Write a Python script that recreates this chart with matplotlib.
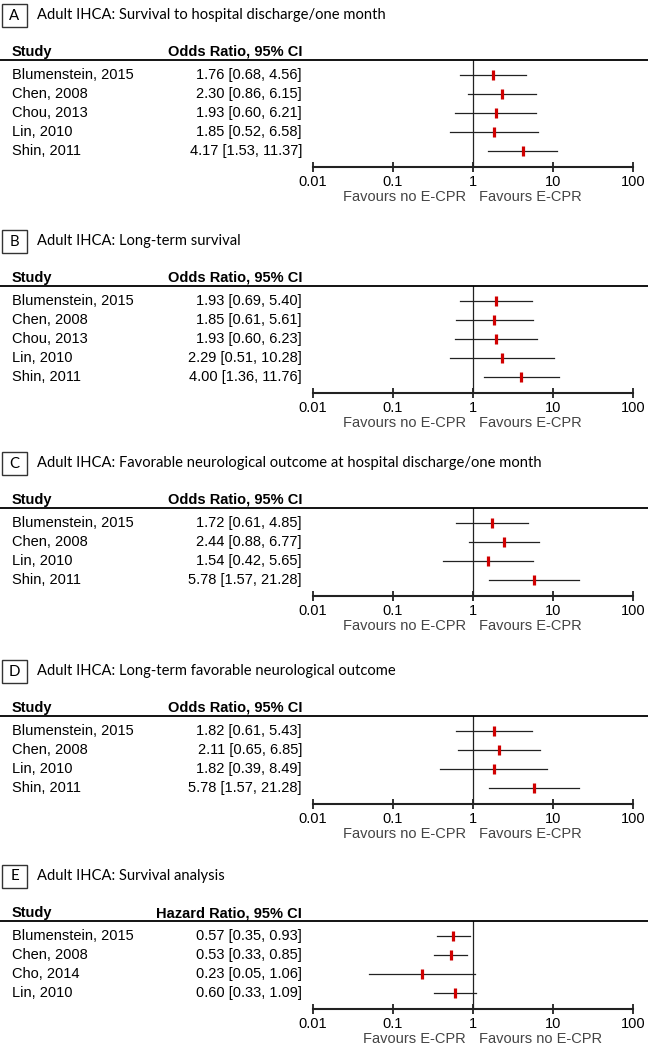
import matplotlib.pyplot as plt
from matplotlib.patches import Rectangle

# data per panel
letters = ['A', 'B', 'C', 'D', 'E']
titles = ['Adult IHCA: Survival to hospital discharge/one month',
          'Adult IHCA: Long-term survival',
          'Adult IHCA: Favorable neurological outcome at hospital discharge/one month',
          'Adult IHCA: Long-term favorable neurological outcome',
          'Adult IHCA: Survival analysis']
measure = ['Odds Ratio, 95% CI', 'Odds Ratio, 95% CI', 'Odds Ratio, 95% CI',
           'Odds Ratio, 95% CI', 'Hazard Ratio, 95% CI']

studies_a = ['Blumenstein, 2015', 'Chen, 2008', 'Chou, 2013', 'Lin, 2010', 'Shin, 2011']
est_a = [1.76, 2.30, 1.93, 1.85, 4.17]
lo_a = [0.68, 0.86, 0.60, 0.52, 1.53]
hi_a = [4.56, 6.15, 6.21, 6.58, 11.37]

studies_b = ['Blumenstein, 2015', 'Chen, 2008', 'Chou, 2013', 'Lin, 2010', 'Shin, 2011']
est_b = [1.93, 1.85, 1.93, 2.29, 4.00]
lo_b = [0.69, 0.61, 0.60, 0.51, 1.36]
hi_b = [5.40, 5.61, 6.23, 10.28, 11.76]

studies_c = ['Blumenstein, 2015', 'Chen, 2008', 'Lin, 2010', 'Shin, 2011']
est_c = [1.72, 2.44, 1.54, 5.78]
lo_c = [0.61, 0.88, 0.42, 1.57]
hi_c = [4.85, 6.77, 5.65, 21.28]

studies_d = ['Blumenstein, 2015', 'Chen, 2008', 'Lin, 2010', 'Shin, 2011']
est_d = [1.82, 2.11, 1.82, 5.78]
lo_d = [0.61, 0.65, 0.39, 1.57]
hi_d = [5.43, 6.85, 8.49, 21.28]

studies_e = ['Blumenstein, 2015', 'Chen, 2008', 'Cho, 2014', 'Lin, 2010']
est_e = [0.57, 0.53, 0.23, 0.60]
lo_e = [0.35, 0.33, 0.05, 0.33]
hi_e = [0.93, 0.85, 1.06, 1.09]

favours = [('Favours no E-CPR', 'Favours E-CPR')] * 4 + [('Favours E-CPR', 'Favours no E-CPR')]
ticks = [0.01, 0.1, 1, 10, 100]
tick_labels = ['0.01', '0.1', '1', '10', '100']

panels = [(studies_a, est_a, lo_a, hi_a), (studies_b, est_b, lo_b, hi_b),
          (studies_c, est_c, lo_c, hi_c), (studies_d, est_d, lo_d, hi_d),
          (studies_e, est_e, lo_e, hi_e)]

W, H = 648, 1050
fig = plt.figure(figsize=(W / 100, H / 100), dpi=100)

def fx(x):
    return x / W

def fy(y):
    return 1 - y / H

arial = 'Liberation Sans'
calibri = 'Lato'
fs = 10.5
row_h = 19.1
top_y = [14, 240, 462, 670, 875]

for k in range(5):
    studies, est, lo, hi = panels[k]
    n = len(studies)
    t = top_y[k]

    # letter box + title
    fig.patches.append(Rectangle((fx(2), fy(t + 13)), fx(25), 23 / H, transform=fig.transFigure,
                                 fill=False, edgecolor='#333333', lw=1.0))
    fig.text(fx(14.5), fy(t + 1.5), letters[k], ha='center', va='center', fontsize=10.8, family=calibri)
    fig.text(fx(37), fy(t + 1), titles[k], ha='left', va='center', fontsize=10.6, family=calibri)

    # header
    fig.text(fx(12), fy(t + 38), 'Study', ha='left', va='center', fontsize=fs, family=arial, weight='bold')
    fig.text(fx(302), fy(t + 38), measure[k], ha='right', va='center', fontsize=fs, family=arial, weight='bold')
    line_y = t + 46
    fig.add_artist(plt.Line2D([0, 1], [fy(line_y), fy(line_y)], color='black', lw=1.3))

    # rows of text
    for i in range(n):
        yy = line_y + 15 + row_h * i
        fig.text(fx(12), fy(yy), studies[i], ha='left', va='center', fontsize=fs, family=arial)
        fig.text(fx(302), fy(yy), '{:.2f} [{:.2f}, {:.2f}]'.format(est[i], lo[i], hi[i]),
                 ha='right', va='center', fontsize=fs, family=arial)

    # forest plot axes
    top_pad = 15 / row_h
    bot_pad = 16 / row_h
    h_px = (n - 1 + top_pad + bot_pad) * row_h
    ax = fig.add_axes([fx(313), fy(line_y + h_px), fx(633 - 313), h_px / H])
    ax.set_xscale('log')
    ax.set_xlim(0.01, 100)
    ax.set_ylim(n - 1 + bot_pad, -top_pad)
    ax.patch.set_visible(False)
    for s in ['top', 'left', 'right']:
        ax.spines[s].set_visible(False)
    ax.spines['bottom'].set_linewidth(1.5)
    ax.spines['bottom'].set_color('#222222')
    ax.set_yticks([])
    ax.set_xticks(ticks)
    ax.set_xticklabels(tick_labels, fontsize=fs, family=arial)
    ax.minorticks_off()
    ax.tick_params(axis='x', direction='inout', length=6.5, width=1.3, color='#222222', pad=2.5)

    ax.axvline(1, color='#222222', lw=0.9)
    for i in range(n):
        ax.plot([lo[i], hi[i]], [i, i], color='#222222', lw=0.9)
        ax.plot([est[i]], [i], marker='|', markersize=7.5, mew=2.3, color='#d00000')

    # favours labels
    fav_y = line_y + h_px + 30
    fig.text(fx(466), fy(fav_y), favours[k][0], ha='right', va='center', fontsize=fs, family=arial, color='#444444')
    fig.text(fx(479), fy(fav_y), favours[k][1], ha='left', va='center', fontsize=fs, family=arial, color='#444444')

fig.savefig('out.png', dpi=100)
